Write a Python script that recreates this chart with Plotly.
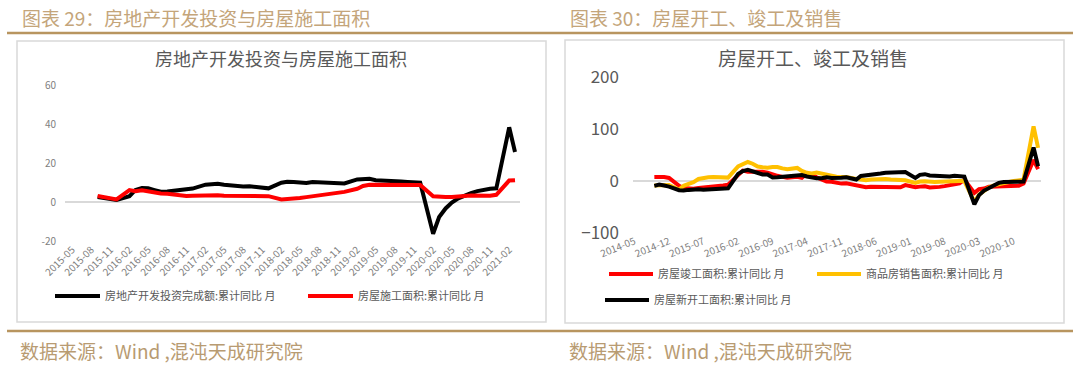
import pandas as pd
import plotly.graph_objects as go

# ---------------- data ----------------
def months_no_jan(start, end):
    return [m for m in pd.period_range(start, end, freq="M").strftime("%Y-%m-01") if m[5:7] != "01"]

left_months = months_no_jan("2015-09", "2021-03")
invest_yoy = [2.6, 2.0, 1.3, 1.0,
              3.0, 6.2, 7.2, 7.0, 6.1, 5.3, 5.4, 5.8, 6.6, 6.5, 6.9,
              8.9, 9.1, 9.3, 8.8, 8.5, 7.9, 7.9, 8.1, 7.8, 7.5, 7.0,
              9.9, 10.4, 10.3, 10.2, 9.7, 10.2, 10.1, 9.9, 9.7, 9.7, 9.5,
              11.6, 11.8, 11.9, 11.2, 10.9, 10.6, 10.5, 10.5, 10.3, 10.2, 9.9,
              -16.3, -7.7, -3.3, -0.3, 1.9, 3.4, 4.6, 5.6, 6.3, 6.8, 7.0,
              38.3, 25.6]
construct_yoy = [3.1, 2.6, 2.3, 1.3,
                 6.1, 5.5, 6.0, 5.4, 4.9, 4.4, 4.2, 3.8, 3.3, 3.1, 3.2,
                 3.4, 3.7, 3.4, 3.2, 3.2, 3.1, 3.2, 3.3, 3.1, 3.0, 3.0,
                 1.3, 1.4, 1.6, 2.0, 2.5, 3.0, 3.5, 3.9, 4.4, 4.7, 5.2,
                 6.8, 8.2, 8.8, 8.8, 8.8, 9.0, 8.8, 8.7, 9.0, 8.7, 8.7,
                 2.9, 2.6, 2.5, 2.6, 2.6, 3.1, 3.3, 3.1, 3.0, 3.2, 3.7,
                 11.0, 11.2]

right_months = months_no_jan("2014-09", "2021-03")
completed_yoy = [7.5, 8.0, 7.8, 5.9,
                 -9.4, -13.7, -14.7, -14.8, -13.3, -12.6, -11.5, -11.8, -10.1, -8.7, -6.9,
                 10.0, 20.0, 18.0, 18.0, 18.0, 18.0, 16.0, 12.0, 10.0, 8.0, 6.1,
                 8.0, 6.0, 14.0, 12.0, 7.0, 2.0, -1.0, -1.6, -3.5, -5.0, -4.4,
                 -9.0, -11.0, -12.0, -11.0, -11.0, -11.0, -11.0, -12.0, -12.0, -12.0, -7.8,
                 -11.9, -10.8, -10.3, -12.4, -12.7, -11.3, -9.9, -8.6, -5.5, -4.5, 2.6,
                 -22.9, -15.8, -14.5, -10.9, -10.5, -11.0, -10.8, -9.9, -10.1, -9.0, -4.9,
                 40.4, 22.9]
sales_yoy = [-8.6, -8.7, -8.2, -7.6,
             -16.3, -9.2, -5.4, -2.2, 3.9, 6.1, 7.2, 7.5, 7.2, 7.4, 6.5,
             28.2, 33.1, 36.5, 33.2, 27.9, 26.4, 25.5, 26.9, 26.8, 24.3, 22.5,
             25.1, 19.5, 15.7, 14.3, 16.1, 14.0, 12.7, 10.3, 8.2, 7.9, 7.7,
             4.1, 3.6, 1.3, 2.9, 3.3, 4.2, 4.0, 2.9, 2.2, 1.4, 1.3,
             -3.6, -0.9, -0.3, -1.6, -1.8, -1.3, -0.6, -0.1, 0.1, 0.2, -0.1,
             -39.9, -26.3, -19.3, -12.3, -8.4, -5.8, -3.3, -1.8, 0.0, 1.3, 2.6,
             104.9, 63.8]
starts_yoy = [-9.3, -7.0, -8.7, -10.7,
              -17.7, -18.4, -17.1, -16.0, -15.8, -16.8, -16.3, -14.6, -14.9, -15.0, -14.0,
              13.7, 19.2, 21.4, 18.1, 14.9, 12.6, 12.4, 6.9, 7.4, 8.5, 8.1,
              10.4, 11.6, 8.6, 6.3, 5.5, 5.5, 7.2, 5.6, 5.4, 6.1, 7.0,
              2.9, 9.7, 10.4, 11.8, 11.8, 14.4, 15.9, 16.4, 16.3, 16.8, 17.2,
              6.0, 11.9, 13.1, 10.5, 10.1, 9.5, 8.9, 8.6, 10.0, 8.6, 8.5,
              -44.9, -27.2, -18.4, -12.8, -7.6, -3.6, -1.9, -1.4, -0.9, -1.0, -1.2,
              64.3, 28.2]

left_names = ["房地产开发投资完成额:累计同比 月", "房屋施工面积:累计同比 月"]
right_names = ["房屋竣工面积:累计同比 月", "商品房销售面积:累计同比 月", "房屋新开工面积:累计同比 月"]
left_yticks = [-20, 0, 20, 40, 60]
right_yticks = [-100, 0, 100, 200]

# ---------------- layout helpers ----------------
W, H = 1080, 366
def px(x): return x / W
def py(y): return 1 - y / H

FONT = "Noto Sans CJK SC"
GOLD = "#B8955F"
GRAY = "#595959"
AXIS_GRAY = "#D9D9D9"

LEFT_RANGE = ["2015-03-28", "2021-03-25"]
RIGHT_RANGE = ["2014-04-22", "2021-03-19"]

fig = go.Figure()

fig.add_trace(go.Scatter(x=left_months, y=invest_yoy, name=left_names[0], mode="lines",
                         line=dict(color="#000000", width=4), xaxis="x", yaxis="y", legend="legend"))
fig.add_trace(go.Scatter(x=left_months, y=construct_yoy, name=left_names[1], mode="lines",
                         line=dict(color="#FF0000", width=4), xaxis="x", yaxis="y", legend="legend"))

fig.add_trace(go.Scatter(x=right_months, y=completed_yoy, name=right_names[0], mode="lines",
                         line=dict(color="#FF0000", width=4), xaxis="x2", yaxis="y2", legend="legend2"))
fig.add_trace(go.Scatter(x=right_months, y=sales_yoy, name=right_names[1], mode="lines",
                         line=dict(color="#FFC000", width=4), xaxis="x2", yaxis="y2", legend="legend2"))
fig.add_trace(go.Scatter(x=right_months, y=starts_yoy, name=right_names[2], mode="lines",
                         line=dict(color="#000000", width=4), xaxis="x2", yaxis="y2", legend="legend3"))

axis_common = dict(showgrid=False, showline=False, zeroline=False, fixedrange=True, automargin=False)

fig.update_layout(
    width=W, height=H,
    margin=dict(l=0, r=0, t=0, b=0, autoexpand=False),
    paper_bgcolor="white", plot_bgcolor="rgba(0,0,0,0)",
    font=dict(family=FONT, color=GRAY),
    xaxis=dict(domain=[px(65), px(520)], anchor="y", type="date",
               range=LEFT_RANGE, tick0="2015-05-01", dtick="M3",
               tickformat="%Y-%m", tickangle=-45, ticks="",
               tickfont=dict(size=10, color="#808080"), **axis_common),
    yaxis=dict(domain=[py(241), py(85)], anchor="x", range=[-20, 60],
               tickvals=left_yticks, ticktext=[str(v) if v >= 0 else "-" + str(-v) for v in left_yticks],
               tickfont=dict(size=10, color="#808080"), ticks="", ticklabelstandoff=8,
               **{**axis_common, "zeroline": True}, zerolinecolor=AXIS_GRAY, zerolinewidth=1.5),
    # tick marks sitting on the zero line (left chart)
    xaxis3=dict(domain=[px(65), px(520)], anchor="free", position=py(202), overlaying="x",
                type="date", range=LEFT_RANGE, tick0="2015-03-29", dtick="M3",
                ticks="outside", ticklen=4, tickcolor=AXIS_GRAY, tickwidth=1,
                showticklabels=False, **axis_common),
    xaxis2=dict(domain=[px(633), px(1041)], anchor="y2", type="date",
                range=RIGHT_RANGE, tick0="2014-05-01", dtick="M7",
                tickformat="%Y-%m", tickangle=-22, ticks="",
                tickfont=dict(size=10, color="#808080"), **axis_common),
    yaxis2=dict(domain=[py(233), py(77)], anchor="x2", range=[-100, 200],
                tickvals=right_yticks, tickfont=dict(size=17, color=GRAY), ticks="",
                ticklabelstandoff=13,
                **{**axis_common, "zeroline": True}, zerolinecolor=AXIS_GRAY, zerolinewidth=1.5),
    # tick marks sitting on the zero line (right chart)
    xaxis4=dict(domain=[px(633), px(1041)], anchor="free", position=py(181), overlaying="x2",
                type="date", range=RIGHT_RANGE, tick0="2014-05-01", dtick="M7",
                ticks="outside", ticklen=4, tickcolor=AXIS_GRAY, tickwidth=1,
                showticklabels=False, **axis_common),
    legend=dict(orientation="h", x=px(50), y=py(296), xanchor="left", yanchor="middle",
                font=dict(size=11, color=GRAY), bgcolor="rgba(0,0,0,0)", itemclick=False,
                itemwidth=45, entrywidth=193, entrywidthmode="pixels"),
    legend2=dict(orientation="h", x=px(604), y=py(274), xanchor="left", yanchor="middle",
                 font=dict(size=11, color=GRAY), bgcolor="rgba(0,0,0,0)", itemclick=False,
                 itemwidth=44, entrywidth=149, entrywidthmode="pixels"),
    legend3=dict(orientation="h", x=px(600), y=py(300), xanchor="left", yanchor="middle",
                 font=dict(size=11, color=GRAY), bgcolor="rgba(0,0,0,0)", itemclick=False,
                 itemwidth=44),
    showlegend=True,
)

shapes = []
# gold rules
for yy in (33, 331):
    shapes.append(dict(type="line", xref="paper", yref="paper", x0=px(7), x1=px(1073),
                       y0=py(yy), y1=py(yy), line=dict(color=GOLD, width=2.5)))
# chart boxes
shapes.append(dict(type="rect", xref="paper", yref="paper", x0=px(17), x1=px(546),
                   y0=py(322), y1=py(41), line=dict(color=AXIS_GRAY, width=1.5), layer="below"))
shapes.append(dict(type="rect", xref="paper", yref="paper", x0=px(565), x1=px(1064),
                   y0=py(323), y1=py(40), line=dict(color=AXIS_GRAY, width=1.5), layer="below"))
fig.update_layout(shapes=shapes)

ann = []
ann.append(dict(text="图表 29：房地产开发投资与房屋施工面积", x=px(20), y=py(17), xanchor="left", yanchor="middle",
                xref="paper", yref="paper", showarrow=False, font=dict(size=19, color="#C4A57A", family=FONT)))
ann.append(dict(text="图表 30：房屋开工、竣工及销售", x=px(568), y=py(17), xanchor="left", yanchor="middle",
                xref="paper", yref="paper", showarrow=False, font=dict(size=19, color="#C4A57A", family=FONT)))
ann.append(dict(text="房地产开发投资与房屋施工面积", x=px(281), y=py(58), xanchor="center", yanchor="middle",
                xref="paper", yref="paper", showarrow=False, font=dict(size=18, color=GRAY, family=FONT)))
ann.append(dict(text="房屋开工、竣工及销售", x=px(813), y=py(57), xanchor="center", yanchor="middle",
                xref="paper", yref="paper", showarrow=False, font=dict(size=19, color=GRAY, family=FONT)))
for xx in (18, 567):
    ann.append(dict(text="数据来源：Wind ,混沌天成研究院", x=px(xx), y=py(350), xanchor="left", yanchor="middle",
                    xref="paper", yref="paper", showarrow=False, font=dict(size=19, color="#B89B72", family=FONT)))
fig.update_layout(annotations=ann)

fig.write_html("out.html", config={"displayModeBar": False},
               post_script="document.body.style.margin='0';")
